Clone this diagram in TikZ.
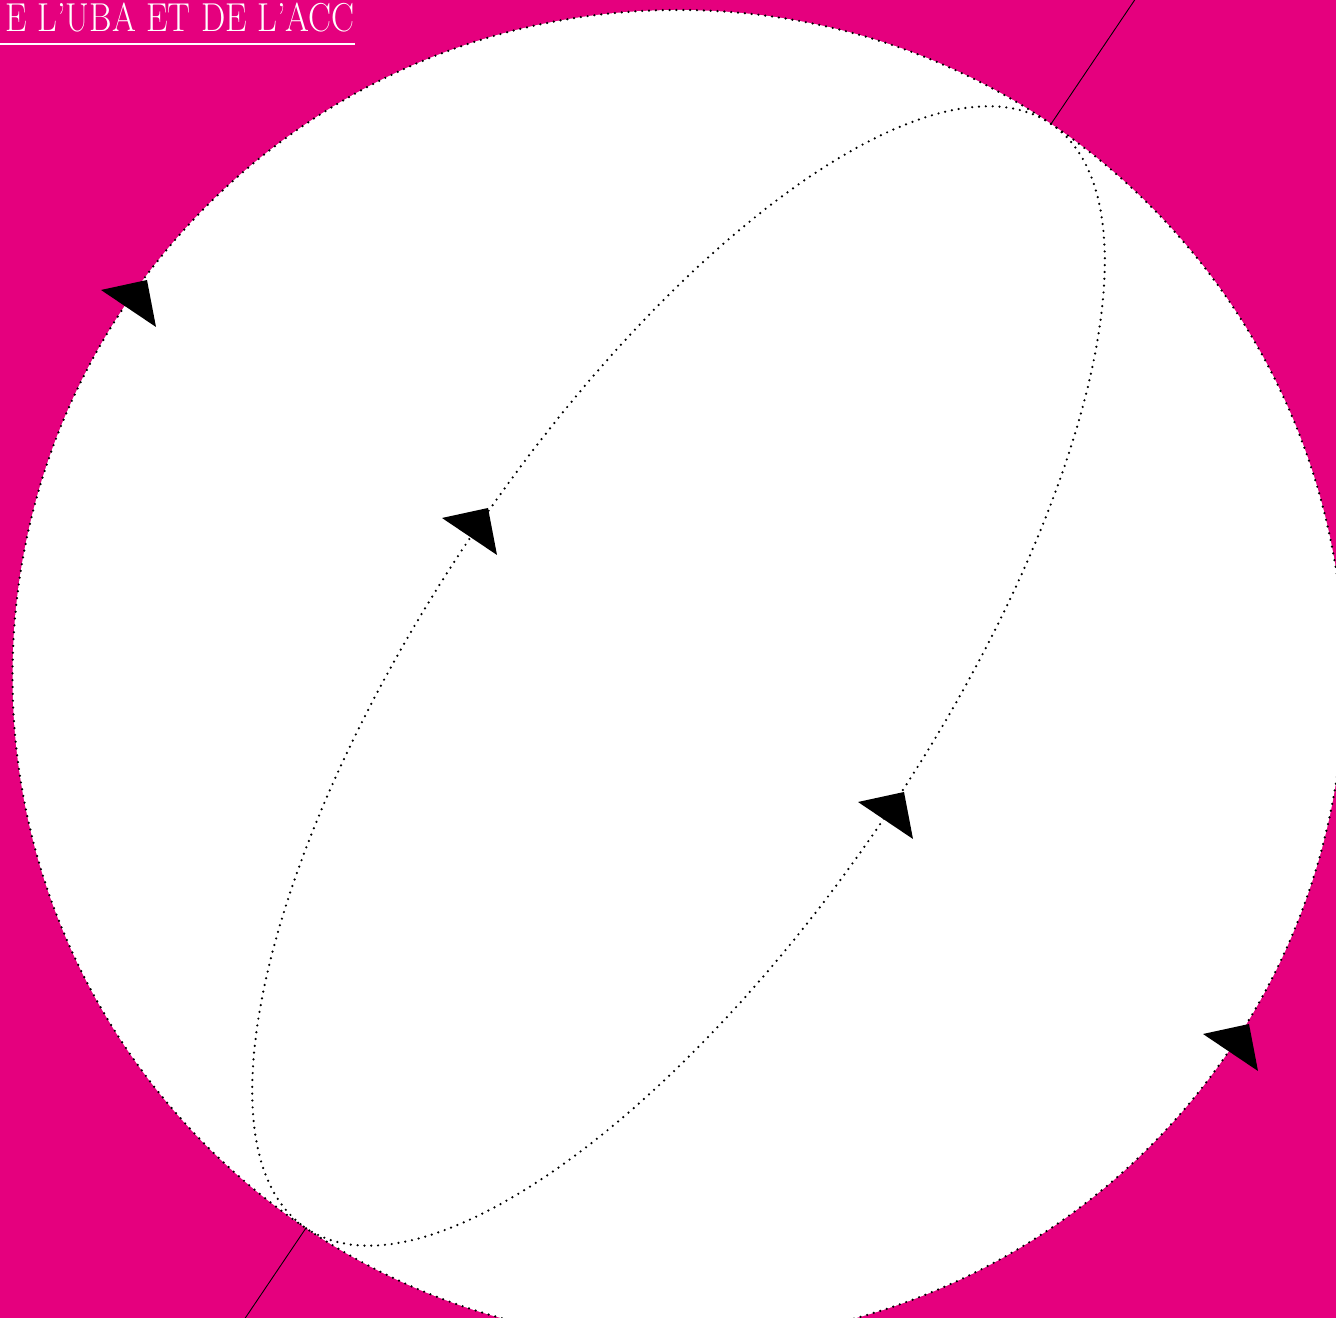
\documentclass[tikz,border=0pt]{standalone}
\usepackage{graphicx}
\usetikzlibrary{calc}

\definecolor{bgmagenta}{HTML}{E5007E}

\tikzset{
    dotline/.style={line width=1.4pt, line cap=round, dash pattern=on 0pt off 3.9pt},
    axisline/.style={line width=0.5pt},
}

\begin{document}
\begin{tikzpicture}[x=0.02cm, y=0.02cm]
\useasboundingbox (0,0) rectangle (1336,1318);
\clip (0,0) rectangle (1336,1318);
\fill[bgmagenta] (0,0) rectangle (1336,1318);

\coordinate (c) at (678.5,642);
\coordinate (np) at (1051,1194);
\coordinate (sp) at (306,90);

% axis through the poles
\draw[axisline] ($(sp)!1.2!(np)$) -- ($(np)!1.2!(sp)$);

% sphere
\fill[white] (c) circle [radius=666];
\draw[dotline] (c) circle [radius=666];

% meridian
\draw[dotline, rotate around={56:(c)}] (c) ellipse [x radius=666, y radius=250];

% direction marks
\foreach \p in {(101,1028),(442,800),(858,516),(1203,284)}
    \fill \p -- ++(46,10) -- ++(9,-47) -- cycle;

% title
\node[anchor=base east, inner sep=0pt, text=white] (title) at (355,1286)
    {\scalebox{0.85}[1]{\fontsize{23}{23}\selectfont E L'UBA ET DE L'ACC}};
\draw[white, line width=0.8pt] (-10,1274) -- (title.east |- 0,1274);
\end{tikzpicture}
\end{document}
